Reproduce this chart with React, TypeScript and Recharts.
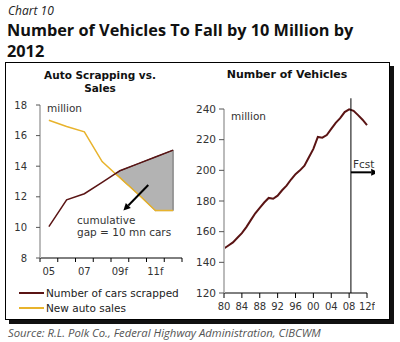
import React from 'react';
import { ComposedChart, Line, Area, XAxis, YAxis, ReferenceLine } from 'recharts';

// left panel: auto scrapping vs sales (million)
const scrapYears = [2005, 2006, 2007, 2008, 2009, 2010, 2011, 2012];
const carsScrapped = [10.05, 11.8, 12.2, 12.95, 13.7, 14.15, 14.6, 15.05];
const newAutoSales = [17.0, 16.6, 16.25, 14.3, 13.25, 12.2, 11.1, 11.1];
const gapStartYear = 2008.75;
const gapStartValue = 13.51;
const scrapTickLabels: Record<number, string> = { 2005: '05', 2007: '07', 2009: '09f', 2011: '11f' };
const scrapYTicks = [8, 10, 12, 14, 16, 18];

// right panel: number of vehicles (million)
const vehicleYears = [
  1980, 1981, 1982, 1983, 1984, 1985, 1986, 1987, 1988, 1989, 1990, 1991, 1992, 1993, 1994, 1995, 1996,
  1997, 1998, 1999, 2000, 2001, 2002, 2003, 2004, 2005, 2006, 2007, 2008, 2009, 2010, 2011, 2012,
];
const vehicleCounts = [
  149, 151, 153, 156, 159, 163, 167.5, 172, 175.5, 179, 182, 181.5, 183.5, 187, 190, 194, 197.5,
  200, 203, 208.5, 214, 221.8, 221.3, 223, 227, 231, 234, 238, 239.8, 238.8, 236, 233, 229.5,
];
const vehicleTicks = [1980, 1984, 1988, 1992, 1996, 2000, 2004, 2008, 2012];
const vehicleTickLabels = ['80', '84', '88', '92', '96', '00', '04', '08', '12f'];
const vehicleYTicks = [120, 140, 160, 180, 200, 220, 240];
const forecastYear = 2008.4;

const MAROON = '#5a1414';
const GOLD = '#e8b32c';
const FONT = '"DejaVu Sans", Verdana, sans-serif';

const scrapData = scrapYears
  .map((year, i) => ({
    year,
    scrapped: carsScrapped[i],
    sales: newAutoSales[i],
    gap: year > gapStartYear ? [newAutoSales[i], carsScrapped[i]] : undefined,
  }))
  .concat([{ year: gapStartYear, scrapped: gapStartValue, sales: gapStartValue, gap: [gapStartValue, gapStartValue] }])
  .sort((a, b) => a.year - b.year);

const vehicleData = vehicleYears.map((year, i) => ({ year, vehicles: vehicleCounts[i] }));

// band edges for the left x axis (labels sit between them)
const scrapBandEdges = scrapYears.map((y) => y - 0.5).concat([scrapYears[scrapYears.length - 1] + 0.5]);
const LEFT_PLOT_W = 142;
const HALF_BAND = LEFT_PLOT_W / scrapYears.length / 2;

const ScrapTick = (props: any) => {
  const { x, y, payload } = props;
  const label = scrapTickLabels[payload.value + 0.5];
  if (!label) return null;
  return (
    <text x={x + HALF_BAND} y={y} dy="0.71em" textAnchor="middle" fontSize={10} fill="#333" fontFamily={FONT}>
      {label}
    </text>
  );
};

const Arrow = (props: any) => {
  const { x1, y1, x2, y2 } = props;
  const ang = Math.atan2(y2 - y1, x2 - x1);
  const len = 7;
  const w = 3.5;
  const bx = x2 - len * Math.cos(ang);
  const by = y2 - len * Math.sin(ang);
  const px = -Math.sin(ang) * w;
  const py = Math.cos(ang) * w;
  return (
    <g>
      <line x1={x1} y1={y1} x2={bx} y2={by} stroke="#000" strokeWidth={2} />
      <polygon points={`${x2},${y2} ${bx + px},${by + py} ${bx - px},${by - py}`} fill="#000" />
    </g>
  );
};

const txt = (left: number, top: number, s: React.CSSProperties = {}): React.CSSProperties => ({
  position: 'absolute',
  left,
  top,
  fontFamily: FONT,
  fontSize: 10,
  color: '#333',
  whiteSpace: 'nowrap',
  lineHeight: '12px',
  ...s,
});

const headline: React.CSSProperties = {
  position: 'absolute',
  left: 7,
  fontFamily: '"Open Sans", sans-serif',
  fontWeight: 700,
  fontSize: 16.3,
  lineHeight: '18px',
  height: 18,
  color: '#111',
  whiteSpace: 'nowrap',
};

export default function App() {
  return (
    <div style={{ position: 'absolute', left: 0, top: 0, width: 400, height: 342, background: '#fff', overflow: 'hidden' }}>
      <div style={{ position: 'absolute', left: 8, top: 4, fontFamily: '"Open Sans", sans-serif', fontStyle: 'italic', fontSize: 12, lineHeight: '14px', color: '#222' }}>
        Chart 10
      </div>
      <div style={{ ...headline, top: 21 }}>Number of Vehicles To Fall by 10 Million by</div>
      <div style={{ ...headline, top: 42 }}>2012</div>

      <div style={{ position: 'absolute', left: 5, top: 62, width: 383, height: 256, border: '1px solid #000', boxShadow: '4px 4px 0 #111' }} />

      <div style={txt(0, 69, { width: 200, textAlign: 'center', fontWeight: 700, fontSize: 10.5, color: '#111', lineHeight: '13px' })}>
        Auto Scrapping vs.<br />Sales
      </div>
      <div style={txt(195, 69, { width: 184, textAlign: 'center', fontWeight: 700, fontSize: 11, color: '#111' })}>
        Number of Vehicles
      </div>

      <div style={{ position: 'absolute', left: 0, top: 0 }}>
        <ComposedChart width={200} height={342} data={scrapData} margin={{ top: 105, right: 18, bottom: 64, left: 10 }}>
          <XAxis
            type="number"
            dataKey="year"
            domain={[2004.5, 2012.5]}
            ticks={scrapBandEdges}
            interval={0}
            tick={<ScrapTick />}
            tickSize={4}
            tickMargin={6}
            height={20}
            axisLine={{ stroke: '#000' }}
            tickLine={{ stroke: '#000' }}
          />
          <YAxis
            domain={[8, 18]}
            ticks={scrapYTicks}
            interval={0}
            width={30}
            tickSize={4}
            tickMargin={9}
            axisLine={{ stroke: '#bbb', strokeWidth: 2 }}
            tickLine={{ stroke: '#555' }}
            tick={{ fontSize: 10, fill: '#333', fontFamily: FONT }}
          />
          <Area dataKey="gap" type="linear" fill="#b3b3b3" fillOpacity={1} stroke="#444" strokeWidth={1} isAnimationActive={false} />
          <ReferenceLine
            segment={[{ x: 2012, y: newAutoSales[7] }, { x: 2012, y: carsScrapped[7] }]}
            stroke="#666"
            ifOverflow="visible"
          />
          <Line dataKey="sales" type="linear" stroke={GOLD} strokeWidth={1.5} dot={false} isAnimationActive={false} />
          <Line dataKey="scrapped" type="linear" stroke={MAROON} strokeWidth={1.5} dot={false} isAnimationActive={false} />
          <ReferenceLine
            segment={[{ x: 2010.6, y: 12.77 }, { x: 2009.2, y: 11.1 }]}
            ifOverflow="visible"
            shape={<Arrow />}
          />
        </ComposedChart>
      </div>

      <div style={{ position: 'absolute', left: 195, top: 0 }}>
        <ComposedChart width={180} height={342} data={vehicleData} margin={{ top: 109, right: 8, bottom: 29, left: 0 }}>
          <XAxis
            type="number"
            dataKey="year"
            domain={[1980, 2012]}
            ticks={vehicleTicks}
            interval={0}
            tickFormatter={(v: number) => vehicleTickLabels[vehicleTicks.indexOf(v)]}
            tickSize={5}
            tickMargin={5}
            height={20}
            axisLine={{ stroke: '#000' }}
            tickLine={{ stroke: '#000' }}
            tick={{ fontSize: 10, fill: '#333', fontFamily: FONT }}
          />
          <YAxis
            domain={[120, 240]}
            ticks={vehicleYTicks}
            interval={0}
            width={29}
            tickSize={5}
            tickMargin={3}
            axisLine={{ stroke: '#bbb', strokeWidth: 2 }}
            tickLine={{ stroke: '#555' }}
            tick={{ fontSize: 10.5, fill: '#333', fontFamily: FONT }}
          />
          <Line dataKey="vehicles" type="linear" stroke={MAROON} strokeWidth={2} dot={false} isAnimationActive={false} />
          <ReferenceLine
            segment={[{ x: forecastYear, y: 120 }, { x: forecastYear, y: 247 }]}
            stroke="#000"
            strokeWidth={1}
            ifOverflow="visible"
          />
          <ReferenceLine
            segment={[{ x: forecastYear, y: 198.7 }, { x: 2014.5, y: 198.7 }]}
            ifOverflow="visible"
            shape={<Arrow />}
          />
        </ComposedChart>
      </div>

      <div style={txt(47, 102, { fontSize: 10.5 })}>million</div>
      <div style={txt(231, 110, { fontSize: 10.5 })}>million</div>
      <div style={txt(77, 214, { fontSize: 10.5 })}>
        cumulative<br />gap = 10 mn cars
      </div>
      <div style={txt(353, 158, { fontSize: 10.5 })}>Fcst</div>

      <div style={{ position: 'absolute', left: 19, top: 285 }}>
        {[
          { name: 'Number of cars scrapped', color: MAROON },
          { name: 'New auto sales', color: GOLD },
        ].map((s) => (
          <div key={s.name} style={{ display: 'flex', alignItems: 'center', height: 15 }}>
            <div style={{ width: 25, height: 2, background: s.color, marginRight: 2 }} />
            <span style={{ fontFamily: FONT, fontSize: 10.5, color: '#222' }}>{s.name}</span>
          </div>
        ))}
      </div>

      <div style={{ position: 'absolute', left: 8, top: 326, fontFamily: '"Open Sans", sans-serif', fontStyle: 'italic', fontSize: 11.3, lineHeight: '14px', color: '#555', whiteSpace: 'nowrap' }}>
        Source: R.L. Polk Co., Federal Highway Administration, CIBCWM
      </div>
    </div>
  );
}
